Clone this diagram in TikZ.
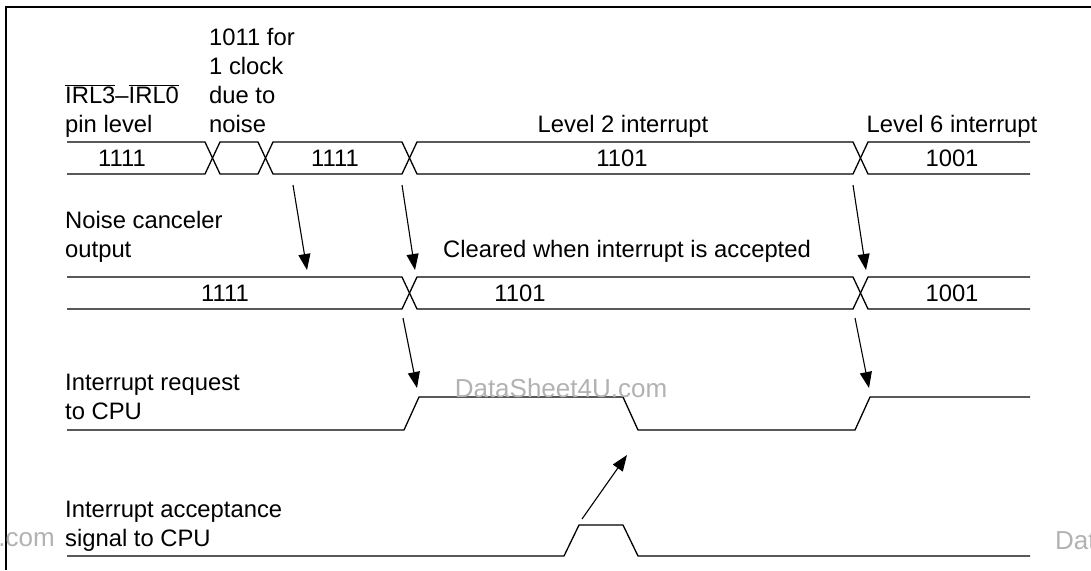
\documentclass[tikz,border=0pt]{standalone}
\usepackage{fontspec}
\setmainfont{Liberation Sans}
\usetikzlibrary{arrows.meta}

\tikzset{
  lbl/.style={font=\fontsize{23.8}{29}\selectfont, inner sep=0pt, align=left, anchor=base west},
  val/.style={font=\fontsize{23.8}{29}\selectfont, inner sep=0pt, anchor=base},
  wave/.style={line width=1.3pt, line join=miter},
  cause/.style={-{Triangle[length=16pt,width=12pt]}, line width=1.1pt},
  stamp/.style={font=\fontsize{26}{30}\selectfont, text=black!30, inner sep=0pt}
}

\begin{document}
\begin{tikzpicture}[x=1pt,y=-1pt]
  \useasboundingbox (0,0) rectangle (1091,570);
  % frame
  \draw[line width=1.5pt] (6,570) -- (6,7) -- (1091,7);

  % labels (base = last line)
  \node[lbl] (pin) at (65,132) {$\overline{\mbox{IRL3}}$--$\overline{\mbox{IRL0}}$\\pin level};
  \node[lbl] (glitch) at (209,132) {1011 for\\1 clock\\due to\\noise};
  \node[lbl] (nco) at (65,257) {Noise canceler\\output};
  \node[lbl] (irq) at (65,419) {Interrupt request\\to CPU};
  \node[lbl] (ack) at (65,546) {Interrupt acceptance\\signal to CPU};
  \node[val] (lvtwo) at (623,132) {Level 2 interrupt};
  \node[val] (lvsix) at (952,132) {Level 6 interrupt};
  \node[val] (clr) at (627,257) {Cleared when interrupt is accepted};

  % pin level
  \draw[wave] (67,142) -- (205,142) -- (220,174) -- (258,174) -- (273,142) -- (402,142)
    -- (417,174) -- (853,174) -- (868,142) -- (1030,142);
  \draw[wave] (67,174) -- (205,174) -- (220,142) -- (258,142) -- (273,174) -- (402,174)
    -- (417,142) -- (853,142) -- (868,174) -- (1030,174);
  \node[val] (pa) at (122,166) {1111};
  \node[val] (pb) at (335,166) {1111};
  \node[val] (pc) at (622,166) {1101};
  \node[val] (pd) at (952,166) {1001};

  % noise canceler output
  \draw[wave] (67,277) -- (402,277) -- (417,309) -- (853,309) -- (868,277) -- (1030,277);
  \draw[wave] (67,309) -- (402,309) -- (417,277) -- (853,277) -- (868,309) -- (1030,309);
  \node[val] (na) at (225,301) {1111};
  \node[val] (nb) at (520,301) {1101};
  \node[val] (nc) at (952,301) {1001};

  % interrupt request
  \draw[wave] (67,430) -- (404,430) -- (419,397) -- (623,397) -- (638,430) -- (855,430)
    -- (870,397) -- (1030,397);

  % acceptance
  \draw[wave] (67,556) -- (564,556) -- (579,525) -- (623,525) -- (638,556) -- (1030,556);

  % arrows
  \coordinate (aa) at (293,185);
  \coordinate (ab) at (307,270);
  \coordinate (ba) at (402,185);
  \coordinate (bb) at (415,270);
  \coordinate (ca) at (853,185);
  \coordinate (cb) at (866,270);
  \coordinate (da) at (403,318);
  \coordinate (db) at (417,388);
  \coordinate (ea) at (855,318);
  \coordinate (eb) at (869,388);
  \coordinate (fa) at (582,519);
  \coordinate (fb) at (627,455);
  \draw[cause] (aa) -- (ab);
  \draw[cause] (ba) -- (bb);
  \draw[cause] (ca) -- (cb);
  \draw[cause] (da) -- (db);
  \draw[cause] (ea) -- (eb);
  \draw[cause] (fa) -- (fb);

  % watermark
  \begin{scope}
    \clip (0,0) rectangle (1091,570);
    \node[stamp, anchor=base] (wmid) at (561,397) {DataSheet4U.com};
    \node[stamp, anchor=base east] (wleft) at (55,546) {DataSheet4U.com};
    \node[stamp, anchor=base west] (wright) at (1055,549) {DataSheet4U.com};
  \end{scope}
\end{tikzpicture}
\end{document}
